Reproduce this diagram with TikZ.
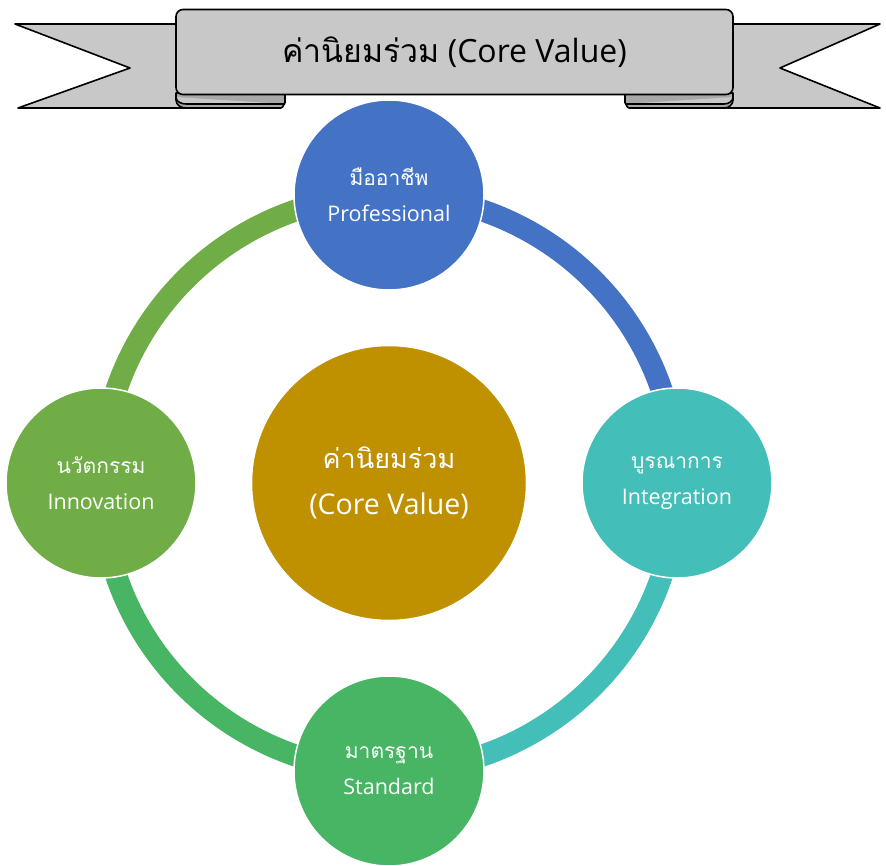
\documentclass[tikz,border=0pt]{standalone}
\usepackage{fontspec}
\setmainfont{Open Sans}
\newfontfamily\thaifont[Script=Thai]{Loma}
\definecolor{cblue}{RGB}{68,114,196}
\definecolor{cteal}{RGB}{67,190,184}
\definecolor{cgreenb}{RGB}{71,181,99}
\definecolor{cgreena}{RGB}{112,173,71}
\definecolor{cgold}{RGB}{191,144,0}
\definecolor{bgray}{RGB}{200,200,200}
\definecolor{bdark}{RGB}{168,168,168}
\newcommand{\thl}[1]{{\thaifont\fontsize{21}{36}\selectfont #1}}
\newcommand{\lal}[1]{{\fontsize{21.5}{36}\selectfont #1}}
\tikzset{
  valnode/.style={circle, minimum size=190pt, inner sep=0pt, draw=white, line width=1.5pt, text=white, align=center, font=\fontsize{21.5}{36}\selectfont},
  ringarc/.style={line width=22pt},
  banner/.style={draw=black, line width=1.6pt, line join=round, fill=bgray},
}
\begin{document}
\begin{tikzpicture}[x=1pt,y=-1pt]
\useasboundingbox (0,0) rectangle (886,866);
% ---- banner ----
\draw[banner] (15,24) -- (200,24) -- (200,108) -- (18,108) -- (130,68) -- cycle;
\draw[banner] (880,24) -- (700,24) -- (700,108) -- (880,108) -- (780,68) -- cycle;
% rolls
\draw[banner, fill=bdark] (176,93) -- (285,93) -- (285,103) to[out=90,in=0] (281,108) -- (186,108) to[out=180,in=-90] (176,100) -- cycle;
\draw[banner, fill=bdark] (733,93) -- (625,93) -- (625,103) to[out=90,in=180] (629,108) -- (724,108) to[out=0,in=-90] (733,100) -- cycle;
\draw[banner] (176,97) to[out=-90,in=180] (186,104) -- (285,104);
\draw[banner] (733,97) to[out=-90,in=0] (724,104) -- (625,104);
% main
\node[banner, minimum width=557pt, minimum height=85pt, rounded corners=7pt, inner sep=0pt, font=\fontsize{32}{36}\selectfont] (title) at (454.5,52) {{\thaifont ค่านิยมร่วม} (Core Value)};
% ---- ring ----
\coordinate (c) at (389,483);
\coordinate (ptop) at (389,195);
\coordinate (pright) at (677,483);
\coordinate (pbottom) at (389,771);
\coordinate (pleft) at (101,483);
\draw[ringarc, cblue] (ptop) arc[start angle=90, end angle=0, radius=288pt];
\draw[ringarc, cteal] (pright) arc[start angle=0, end angle=-90, radius=288pt];
\draw[ringarc, cgreenb] (pbottom) arc[start angle=270, end angle=180, radius=288pt];
\draw[ringarc, cgreena] (pleft) arc[start angle=180, end angle=90, radius=288pt];
% ---- nodes ----
\node[valnode, fill=cgold, minimum size=275pt, font=\fontsize{28.5}{46}\selectfont] (core) at (c) {{\thaifont\fontsize{27}{46}\selectfont ค่านิยมร่วม}\\(Core Value)};
\node[valnode, fill=cblue] (pro) at (ptop) {\thl{มืออาชีพ}\\Professional};
\node[valnode, fill=cteal] (int) at (pright) {\thl{บูรณาการ}\\Integration};
\node[valnode, fill=cgreenb] (std) at (pbottom) {\thl{มาตรฐาน}\\Standard};
\node[valnode, fill=cgreena] (inn) at (pleft) {\thl{นวัตกรรม}\\Innovation};
\end{tikzpicture}
\end{document}
